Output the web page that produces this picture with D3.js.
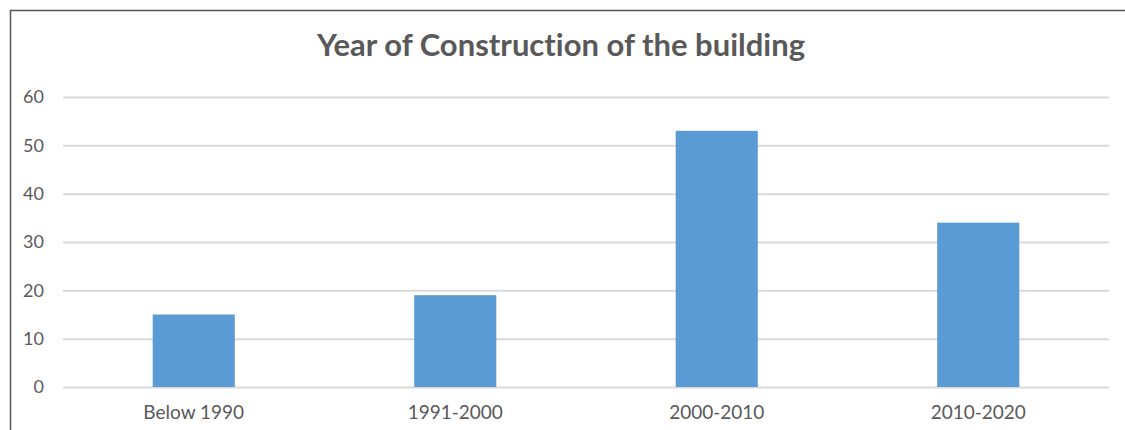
<!DOCTYPE html>
<html>
<head>
<meta charset="utf-8">
<script src="https://cdn.jsdelivr.net/npm/d3@7"></script>
<style>
  body { margin: 0; background: #fff; }
  svg { display: block; }
  text { font-variant-ligatures: none; }
  .tick text { font-family: Lato, "Open Sans", sans-serif; fill: #595959; }
</style>
</head>
<body>
<div id="graph"></div>
<script>
// Data
var categories = ["Below 1990", "1991-2000", "2000-2010", "2010-2020"];
var counts = [15, 19, 53, 34];
var yTicks = [0, 10, 20, 30, 40, 50, 60];
var title = "Year of Construction of the building";

// Set the dimensions of the canvas / graph
var W = 1125, H = 430;
var margin = { top: 97, right: 16, bottom: 43, left: 63 },
    width = W - margin.left - margin.right,
    height = H - margin.top - margin.bottom;

// Set the ranges
var x = d3.scaleBand().domain(categories).range([0, width])
    .paddingInner(0.686).paddingOuter(0.343);
var y = d3.scaleLinear().domain([0, 60]).range([height, 0]);

var root = d3.select("#graph").append("svg")
    .attr("width", W)
    .attr("height", H);

// chart border (cropped at right / bottom in the original)
root.append("rect")
    .attr("x", 10.5).attr("y", 10.5)
    .attr("width", W + 20).attr("height", H + 20)
    .attr("fill", "none")
    .attr("stroke", "#555")
    .attr("stroke-width", 1.5);

// title
root.append("text")
    .attr("x", 561).attr("y", 56)
    .attr("text-anchor", "middle")
    .style("font-family", "Lato, 'Open Sans', sans-serif")
    .style("font-weight", "bold")
    .style("font-size", "31px")
    .style("fill", "#595959")
    .text(title);

var svg = root.append("g")
    .attr("transform", "translate(" + margin.left + "," + margin.top + ")");

// gridlines + y labels
var yAxis = svg.append("g")
    .call(d3.axisLeft(y).tickValues(yTicks).tickSize(-width).tickPadding(19));
yAxis.select(".domain").remove();
yAxis.selectAll(".tick line").attr("stroke", "#d9d9d9").attr("stroke-width", 2);
yAxis.selectAll(".tick text").style("font-size", "18px");

// bars
svg.selectAll(".bar")
    .data(counts)
    .enter().append("rect")
    .attr("class", "bar")
    .attr("x", function(d, i) { return x(categories[i]); })
    .attr("width", x.bandwidth())
    .attr("y", function(d) { return y(d); })
    .attr("height", function(d) { return height - y(d); })
    .attr("fill", "#5b9bd5");

// x axis labels
var xAxis = svg.append("g")
    .attr("transform", "translate(0," + height + ")")
    .call(d3.axisBottom(x).tickSize(0).tickPadding(19));
xAxis.select(".domain").remove();
xAxis.selectAll(".tick text").style("font-size", "19px");
</script>
</body>
</html>
